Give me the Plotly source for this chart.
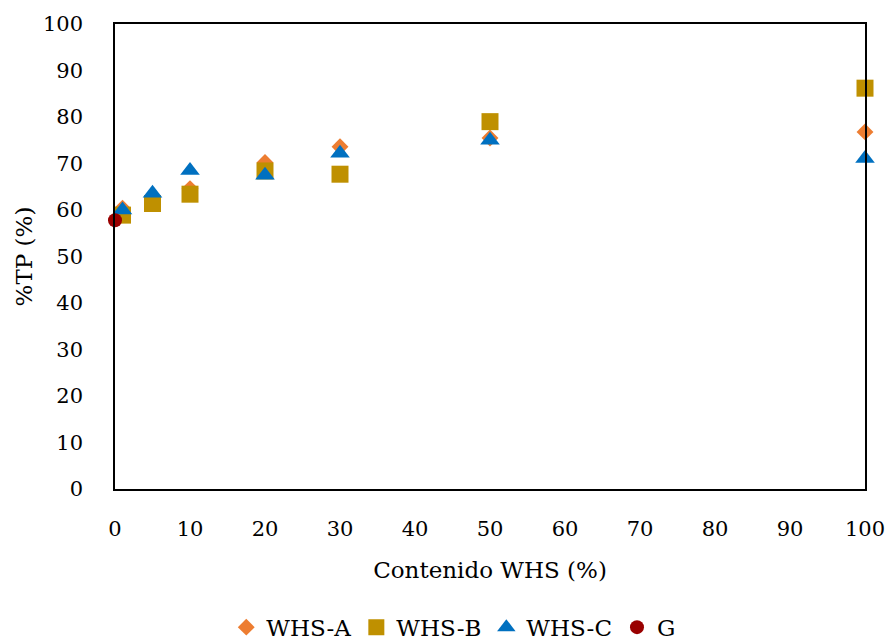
import plotly.graph_objects as go

# WHS content (%) and %TP for each series
x_whs = [1, 5, 10, 20, 30, 50, 100]
tp_whs_a = [60.4, 62.0, 64.6, 70.2, 73.6, 75.5, 76.8]
tp_whs_b = [58.9, 61.4, 63.4, 68.4, 67.7, 79.0, 86.2]
tp_whs_c = [60.0, 63.6, 68.5, 67.5, 72.2, 75.0, 71.1]
x_g = [0]
tp_g = [57.8]

x_ticks = [0, 10, 20, 30, 40, 50, 60, 70, 80, 90, 100]
y_ticks = [0, 10, 20, 30, 40, 50, 60, 70, 80, 90, 100]

FONT = "DejaVu Serif"
TICK_FS = 21
TEXT_FS = 23

fig = go.Figure()
fig.add_trace(go.Scatter(x=x_whs, y=tp_whs_a, mode="markers", name="WHS-A",
                         marker=dict(symbol="diamond", size=13, color="#ED7D31"),
                         cliponaxis=False))
fig.add_trace(go.Scatter(x=x_whs, y=tp_whs_b, mode="markers", name="WHS-B",
                         marker=dict(symbol="square", size=17, color="#BF9000"),
                         cliponaxis=False))
fig.add_trace(go.Scatter(x=x_whs, y=tp_whs_c, mode="markers", name="WHS-C",
                         marker=dict(symbol="triangle-up", size=17, color="#0070C0"),
                         cliponaxis=False))
fig.add_trace(go.Scatter(x=x_g, y=tp_g, mode="markers", name="G",
                         marker=dict(symbol="circle", size=14, color="#990000"),
                         cliponaxis=False))

axis_common = dict(showgrid=False, zeroline=False, showline=True, linecolor="black",
                   linewidth=1.5, mirror=True, ticks="", automargin=False,
                   tickfont=dict(size=TICK_FS, color="black"))

fig.update_layout(
    width=888, height=640,
    margin=dict(l=115, r=23, t=24, b=151, autoexpand=False),
    paper_bgcolor="white", plot_bgcolor="white",
    font=dict(family=FONT, color="black"),
    xaxis=dict(range=[0, 100], tickvals=x_ticks, ticklabelstandoff=20,
               title=dict(text="Contenido WHS (%)", font=dict(size=TEXT_FS), standoff=22),
               **axis_common),
    yaxis=dict(range=[0, 100], tickvals=y_ticks, ticklabelstandoff=26,
               title=dict(text="%TP (%)", font=dict(size=TEXT_FS), standoff=4),
               **axis_common),
    legend=dict(orientation="h", xref="container", x=0.511, xanchor="center",
                yref="container", y=0.02, yanchor="middle",
                font=dict(size=TEXT_FS), itemwidth=30,
                tracegroupgap=0, bgcolor="rgba(0,0,0,0)"),
    showlegend=True,
)

fig.write_html("out.html")
